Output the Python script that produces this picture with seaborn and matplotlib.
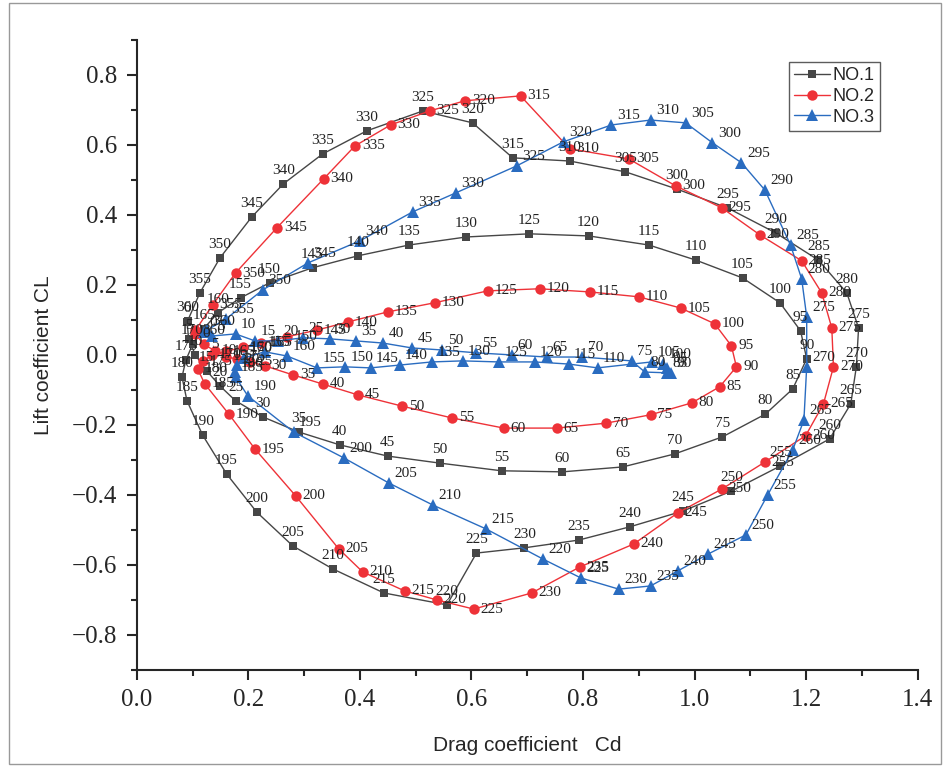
import numpy as np
import pandas as pd
import matplotlib
matplotlib.use("Agg")
import matplotlib.pyplot as plt
import seaborn as sns
from matplotlib.ticker import MultipleLocator, FuncFormatter
from matplotlib.patches import Rectangle

angles = list(range(0, 365, 5))

no1_cd = [0.090, 0.093, 0.105, 0.125, 0.150, 0.177, 0.226, 0.290, 0.364, 0.450,
          0.543, 0.654, 0.763, 0.871, 0.964, 1.050, 1.127, 1.176, 1.201, 1.190,
          1.153, 1.086, 1.002, 0.918, 0.810, 0.704, 0.591, 0.488, 0.396, 0.315,
          0.238, 0.186, 0.145, 0.120, 0.100, 0.088, 0.081, 0.090, 0.118, 0.161,
          0.215, 0.280, 0.351, 0.443, 0.556, 0.609, 0.695, 0.792, 0.884, 0.979,
          1.066, 1.154, 1.242, 1.280, 1.290, 1.294, 1.273, 1.222, 1.145, 1.059,
          0.968, 0.876, 0.776, 0.674, 0.602, 0.513, 0.412, 0.333, 0.263, 0.206,
          0.149, 0.113, 0.091]
no1_cl = [0.095, 0.045, 0.000, -0.045, -0.090, -0.131, -0.177, -0.220, -0.257, -0.289,
          -0.309, -0.331, -0.334, -0.320, -0.283, -0.234, -0.169, -0.097, -0.011, 0.069,
          0.149, 0.220, 0.271, 0.314, 0.340, 0.346, 0.337, 0.314, 0.283, 0.249,
          0.206, 0.163, 0.120, 0.075, 0.030, -0.015, -0.063, -0.131, -0.229, -0.340,
          -0.449, -0.546, -0.611, -0.680, -0.714, -0.566, -0.551, -0.529, -0.491, -0.446,
          -0.389, -0.317, -0.240, -0.140, -0.034, 0.077, 0.177, 0.271, 0.349, 0.420,
          0.474, 0.523, 0.554, 0.563, 0.663, 0.697, 0.640, 0.574, 0.489, 0.394,
          0.277, 0.177, 0.097]

no2_cd = [0.105, 0.120, 0.140, 0.160, 0.180, 0.203, 0.229, 0.280, 0.333, 0.396,
          0.475, 0.565, 0.658, 0.753, 0.841, 0.921, 0.995, 1.045, 1.075, 1.066,
          1.036, 0.975, 0.900, 0.812, 0.722, 0.629, 0.534, 0.450, 0.378, 0.323,
          0.270, 0.222, 0.190, 0.160, 0.135, 0.118, 0.109, 0.122, 0.165, 0.212,
          0.285, 0.362, 0.405, 0.480, 0.538, 0.604, 0.708, 0.794, 0.891, 0.970,
          1.049, 1.126, 1.199, 1.231, 1.249, 1.246, 1.228, 1.192, 1.117, 1.049,
          0.966, 0.882, 0.776, 0.688, 0.588, 0.525, 0.455, 0.391, 0.335, 0.251,
          0.177, 0.136, 0.105]
no2_cl = [0.060, 0.030, 0.012, -0.005, -0.012, -0.020, -0.031, -0.057, -0.083, -0.114,
          -0.146, -0.180, -0.209, -0.209, -0.195, -0.171, -0.137, -0.091, -0.034, 0.026,
          0.089, 0.134, 0.166, 0.180, 0.189, 0.183, 0.149, 0.123, 0.094, 0.071,
          0.052, 0.035, 0.022, 0.010, 0.000, -0.018, -0.040, -0.083, -0.169, -0.269,
          -0.403, -0.554, -0.620, -0.674, -0.700, -0.726, -0.680, -0.606, -0.540, -0.451,
          -0.383, -0.306, -0.231, -0.140, -0.034, 0.077, 0.177, 0.269, 0.343, 0.420,
          0.483, 0.560, 0.589, 0.740, 0.726, 0.697, 0.657, 0.597, 0.503, 0.363,
          0.234, 0.143, 0.070]

no3_cd = [0.120, 0.134, 0.177, 0.212, 0.253, 0.298, 0.346, 0.393, 0.441, 0.493,
          0.548, 0.609, 0.672, 0.735, 0.799, 0.887, 0.911, 0.950, 0.957, 0.951,
          0.943, 0.923, 0.826, 0.774, 0.713, 0.649, 0.584, 0.529, 0.471, 0.419,
          0.373, 0.323, 0.269, 0.229, 0.192, 0.180, 0.176, 0.177, 0.199, 0.281,
          0.371, 0.452, 0.531, 0.626, 0.728, 0.796, 0.864, 0.921, 0.970, 1.024,
          1.092, 1.131, 1.176, 1.196, 1.201, 1.201, 1.192, 1.172, 1.126, 1.084,
          1.032, 0.984, 0.921, 0.851, 0.765, 0.681, 0.572, 0.495, 0.400, 0.307,
          0.226, 0.160, 0.125]
no3_cl = [0.065, 0.054, 0.060, 0.040, 0.040, 0.049, 0.046, 0.040, 0.034, 0.020,
          0.014, 0.006, 0.000, -0.006, -0.006, -0.017, -0.049, -0.051, -0.051, -0.037,
          -0.026, -0.020, -0.037, -0.026, -0.020, -0.020, -0.017, -0.020, -0.029, -0.037,
          -0.034, -0.037, -0.003, 0.009, -0.009, -0.030, -0.050, -0.063, -0.117, -0.220,
          -0.294, -0.366, -0.429, -0.497, -0.583, -0.637, -0.669, -0.660, -0.617, -0.569,
          -0.514, -0.400, -0.271, -0.186, -0.034, 0.109, 0.217, 0.314, 0.471, 0.549,
          0.606, 0.663, 0.671, 0.657, 0.609, 0.540, 0.463, 0.409, 0.326, 0.263,
          0.186, 0.103, 0.070]

series_names = ["NO.1", "NO.2", "NO.3"]
colors = ["#464646", "#ee3238", "#2a6cc0"]
markers = ["s", "o", "^"]
msizes = [6, 7.5, 8]
label_offsets = [((0, 5), "center", "bottom"), ((5, 0), "left", "center"), ((4, 2), "left", "bottom")]

frames = []
for name, cd, cl in zip(series_names, [no1_cd, no2_cd, no3_cd], [no1_cl, no2_cl, no3_cl]):
    frames.append(pd.DataFrame({"series": name, "angle": angles, "Cd": cd, "CL": cl}))
df = pd.concat(frames, ignore_index=True)

sns.set_style("ticks")
plt.rcParams["font.family"] = ["Liberation Sans", "DejaVu Sans"]

fig = plt.figure(figsize=(9.5, 7.67), dpi=100)
ax = fig.add_axes([0.144, 0.1265, 0.822, 0.8215])

for name, c, m, ms, (off, ha, va) in zip(series_names, colors, markers, msizes, label_offsets):
    sub = df[df["series"] == name]
    sns.lineplot(data=sub, x="Cd", y="CL", sort=False, estimator=None, ax=ax,
                 color=c, marker=m, markersize=ms, markeredgewidth=0,
                 linewidth=1.0, label=name)
    for a, x, y in zip(sub["angle"], sub["Cd"], sub["CL"]):
        ax.annotate(str(a), (x, y), xytext=off, textcoords="offset points",
                    ha=ha, va=va, fontsize=11, family=["Liberation Serif", "DejaVu Serif"],
                    color="#222222")

ax.set_xlim(0, 1.4)
ax.set_ylim(-0.9, 0.9)
ax.xaxis.set_major_locator(MultipleLocator(0.2))
ax.xaxis.set_minor_locator(MultipleLocator(0.1))
ax.yaxis.set_major_locator(MultipleLocator(0.2))
ax.yaxis.set_minor_locator(MultipleLocator(0.1))
fmt = FuncFormatter(lambda v, p: ("%.1f" % v).replace("-", "\u2212"))
ax.xaxis.set_major_formatter(fmt)
ax.yaxis.set_major_formatter(fmt)
for lab in ax.get_xticklabels() + ax.get_yticklabels():
    lab.set_family(["Liberation Serif", "DejaVu Serif"])
    lab.set_fontsize(18)
ax.tick_params(which="major", direction="out", length=7, width=1.5, pad=7)
ax.tick_params(which="minor", direction="out", length=4, width=1.5)
sns.despine(ax=ax)
for s in ["left", "bottom"]:
    ax.spines[s].set_linewidth(1.5)

ax.set_xlabel("Drag coefficient   Cd", fontsize=15, labelpad=18)
ax.set_ylabel("Lift coefficient CL", fontsize=15, labelpad=14)

leg = ax.legend(loc="upper right", bbox_to_anchor=(0.952, 0.965), frameon=True,
                fancybox=False, edgecolor="#333333", fontsize=13, handlelength=2.0,
                borderpad=0.3, labelspacing=0.2, handletextpad=0.15, borderaxespad=0)
leg.get_frame().set_linewidth(1.0)

fig.add_artist(Rectangle((0.009, 0.004), 0.982, 0.992, transform=fig.transFigure,
                         fill=False, edgecolor="#999999", linewidth=1.0))

fig.savefig("out.png", dpi=100)
